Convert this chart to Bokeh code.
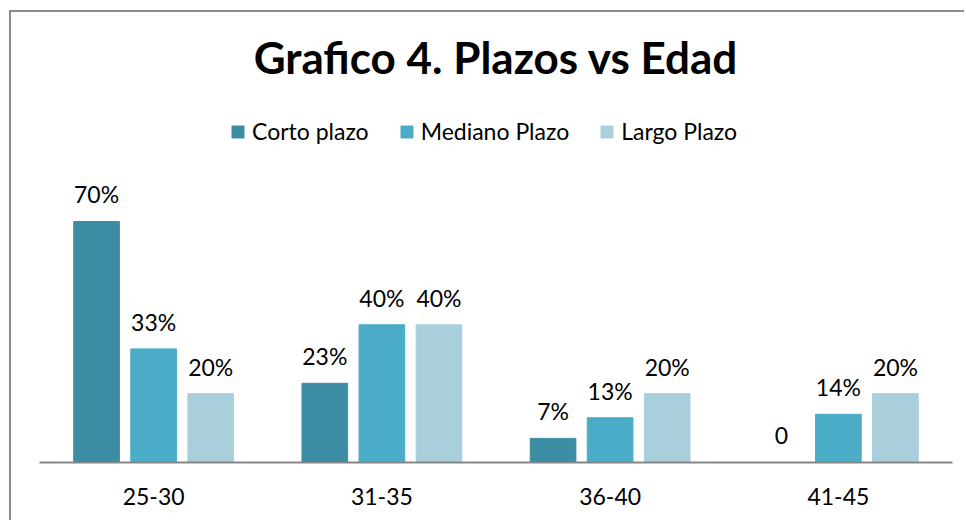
from bokeh.plotting import figure
from bokeh.models import ColumnDataSource, FactorRange, Legend, LegendItem, Label
from bokeh.transform import dodge
from bokeh.core.properties import value
from bokeh.embed import file_html
from bokeh.resources import INLINE

categories = ["25-30", "31-35", "36-40", "41-45"]
corto = [70, 23, 7, 0]
mediano = [33, 40, 13, 14]
largo = [20, 40, 20, 20]
corto_lbl = ["70%", "23%", "7%", "0"]
mediano_lbl = ["33%", "40%", "13%", "14%"]
largo_lbl = ["20%", "40%", "20%", "20%"]
title_text = "Grafico 4. Plazos vs Edad"

FONT = "Lato"
C1, C2, C3 = "#3c8ca3", "#4aacc6", "#a9cfdd"

src = ColumnDataSource(dict(cat=categories, corto=corto, mediano=mediano, largo=largo,
                            corto_lbl=corto_lbl, mediano_lbl=mediano_lbl, largo_lbl=largo_lbl))

SCALE = 3.443
FRAME_H = 450
Y_END = FRAME_H / SCALE
p = figure(width=955, height=510, x_range=FactorRange(*categories), y_range=(0, Y_END),
           output_backend="svg", toolbar_location=None,
           min_border_left=28, min_border_right=14, min_border_top=0, min_border_bottom=60)
p.styles = {"margin-left": "9px", "margin-top": "10px",
            "border-left": "2px solid #8c8c8c", "border-top": "2px solid #8c8c8c"}

p.add_layout(Label(x=2.0, y=Y_END - 44 / SCALE, text=title_text, text_font=FONT,
                   text_font_size="44px", text_font_style="bold", text_color="black",
                   text_align="center", text_baseline="middle"))

renderers = []
for off, col, lbl, color, name in [(-0.25, "corto", "corto_lbl", C1, "Corto plazo"),
                                   (0.0, "mediano", "mediano_lbl", C2, "Mediano Plazo"),
                                   (0.25, "largo", "largo_lbl", C3, "Largo Plazo")]:
    r = p.vbar(x=dodge("cat", off, range=p.x_range), top=col, width=0.2, source=src,
               fill_color=color, line_color=color)
    renderers.append((name, r))
    p.text(x=dodge("cat", off, range=p.x_range), y=col, text=lbl, source=src,
           text_font=value(FONT), text_font_size="23px", text_align="center",
           text_baseline="middle", y_offset=-27, text_color="black")

legend = Legend(items=[LegendItem(label=n, renderers=[r]) for n, r in renderers],
                orientation="horizontal", location=(191, 317),
                label_text_font=FONT, label_text_font_size="23px", label_text_color="black",
                glyph_width=15, glyph_height=15, label_standoff=7, spacing=30,
                padding=0, margin=0, border_line_color=None, background_fill_alpha=0)
p.add_layout(legend)

p.yaxis.visible = False
p.xgrid.visible = False
p.ygrid.visible = False
p.outline_line_color = None
p.xaxis.axis_line_color = "#868686"
p.xaxis.axis_line_width = 2
p.xaxis.major_tick_line_color = None
p.xaxis.minor_tick_line_color = None
p.xaxis.major_label_text_font = FONT
p.xaxis.major_label_text_font_size = "23px"
p.xaxis.major_label_text_color = "black"
p.xaxis.major_label_standoff = 19

open("out.html", "w").write(file_html(p, INLINE))
